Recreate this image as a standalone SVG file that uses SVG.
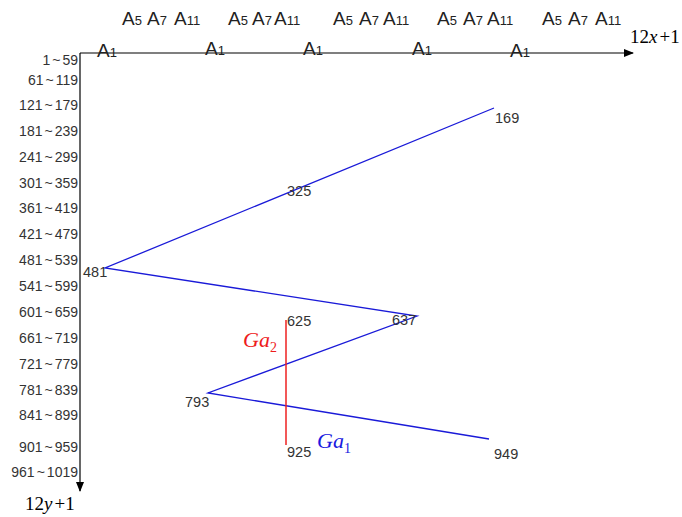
<svg xmlns="http://www.w3.org/2000/svg" width="682" height="517" viewBox="0 0 682 517">
<defs>
<marker id="ah" markerWidth="10" markerHeight="8" refX="9" refY="4" orient="auto" markerUnits="userSpaceOnUse">
<path d="M0,0 L10,4 L0,8 Z" fill="#000"/>
</marker>
<style>
.lab{font-family:"Liberation Sans",Arial,sans-serif;font-size:14.5px;fill:#333}
.yl{font-family:"Liberation Sans",Arial,sans-serif;font-size:14px;fill:#333;text-anchor:end}
.a{font-family:"Liberation Sans",Arial,sans-serif;font-size:19px;fill:#222}
.s{font-size:13px}
.m{font-family:"Liberation Serif","Times New Roman",serif;font-size:19px;fill:#000}
.g{font-family:"Liberation Serif","Times New Roman",serif;font-size:22px;font-style:italic}
.blue{fill:none;stroke:#1a1ad8;stroke-width:1.3}
.red{fill:none;stroke:#ee2020;stroke-width:1.5}
.axis{fill:none;stroke:#000;stroke-width:1.2}
</style>
</defs>
<rect width="682" height="517" fill="#fff"/>
<g id="axes">
<line class="axis" x1="80" y1="53" x2="633" y2="53" marker-end="url(#ah)"/>
<line class="axis" x1="80" y1="53" x2="80" y2="491" marker-end="url(#ah)"/>
<text class="m" x="630" y="43">12<tspan font-style="italic">x</tspan><tspan dx="2">+</tspan>1</text>
<text class="m" x="25" y="510">12<tspan font-style="italic">y</tspan><tspan dx="2">+</tspan>1</text>
</g>
<g id="top-labels">
<text class="a" y="25"><tspan x="122">A</tspan><tspan class="s">5</tspan><tspan x="147">A</tspan><tspan class="s">7</tspan><tspan x="174">A</tspan><tspan class="s">11</tspan></text>
<text class="a" y="25"><tspan x="228">A</tspan><tspan class="s">5</tspan><tspan x="252">A</tspan><tspan class="s">7</tspan><tspan x="274">A</tspan><tspan class="s">11</tspan></text>
<text class="a" y="25"><tspan x="333">A</tspan><tspan class="s">5</tspan><tspan x="359">A</tspan><tspan class="s">7</tspan><tspan x="383">A</tspan><tspan class="s">11</tspan></text>
<text class="a" y="25"><tspan x="437">A</tspan><tspan class="s">5</tspan><tspan x="463">A</tspan><tspan class="s">7</tspan><tspan x="487">A</tspan><tspan class="s">11</tspan></text>
<text class="a" y="25"><tspan x="542">A</tspan><tspan class="s">5</tspan><tspan x="568">A</tspan><tspan class="s">7</tspan><tspan x="595">A</tspan><tspan class="s">11</tspan></text>
<text class="a" x="97" y="57">A<tspan class="s">1</tspan></text>
<text class="a" x="205" y="55">A<tspan class="s">1</tspan></text>
<text class="a" x="303" y="55">A<tspan class="s">1</tspan></text>
<text class="a" x="412" y="55">A<tspan class="s">1</tspan></text>
<text class="a" x="510" y="57">A<tspan class="s">1</tspan></text>
</g>
<g id="y-labels">
<text class="yl" x="78" y="65">1<tspan dx="2">~</tspan><tspan dx="2">59</tspan></text>
<text class="yl" x="78" y="85">61<tspan dx="2">~</tspan><tspan dx="2">119</tspan></text>
<text class="yl" x="78" y="110">121<tspan dx="2">~</tspan><tspan dx="2">179</tspan></text>
<text class="yl" x="78" y="136">181<tspan dx="2">~</tspan><tspan dx="2">239</tspan></text>
<text class="yl" x="78" y="162">241<tspan dx="2">~</tspan><tspan dx="2">299</tspan></text>
<text class="yl" x="78" y="188">301<tspan dx="2">~</tspan><tspan dx="2">359</tspan></text>
<text class="yl" x="78" y="213">361<tspan dx="2">~</tspan><tspan dx="2">419</tspan></text>
<text class="yl" x="78" y="239">421<tspan dx="2">~</tspan><tspan dx="2">479</tspan></text>
<text class="yl" x="78" y="265">481<tspan dx="2">~</tspan><tspan dx="2">539</tspan></text>
<text class="yl" x="78" y="291">541<tspan dx="2">~</tspan><tspan dx="2">599</tspan></text>
<text class="yl" x="78" y="317">601<tspan dx="2">~</tspan><tspan dx="2">659</tspan></text>
<text class="yl" x="78" y="343">661<tspan dx="2">~</tspan><tspan dx="2">719</tspan></text>
<text class="yl" x="78" y="369">721<tspan dx="2">~</tspan><tspan dx="2">779</tspan></text>
<text class="yl" x="78" y="395">781<tspan dx="2">~</tspan><tspan dx="2">839</tspan></text>
<text class="yl" x="78" y="420">841<tspan dx="2">~</tspan><tspan dx="2">899</tspan></text>
<text class="yl" x="78" y="452">901<tspan dx="2">~</tspan><tspan dx="2">959</tspan></text>
<text class="yl" x="78" y="477">961<tspan dx="2">~</tspan><tspan dx="2">1019</tspan></text>
</g>
<g id="connectors">
<polyline class="blue" points="494,108 105,268 417,316 208,393 489,439"/>
<line class="red" x1="286" y1="320" x2="286" y2="445"/>
</g>
<g id="n169"><text class="lab" x="495" y="123">169</text></g>
<g id="n325"><text class="lab" x="287" y="196">325</text></g>
<g id="n481"><text class="lab" x="83" y="277">481</text></g>
<g id="n637"><text class="lab" x="392" y="325">637</text></g>
<g id="n625"><text class="lab" x="287" y="326">625</text></g>
<g id="n793"><text class="lab" x="185" y="407">793</text></g>
<g id="n925"><text class="lab" x="287" y="457">925</text></g>
<g id="n949"><text class="lab" x="494" y="459">949</text></g>
<g id="Ga2"><text class="g" x="243" y="347" fill="#ee1c1c">Ga<tspan font-size="14" font-style="normal" dy="5">2</tspan></text></g>
<g id="Ga1"><text class="g" x="317" y="448" fill="#1a1ae0">Ga<tspan font-size="14" font-style="normal" dy="5">1</tspan></text></g>
</svg>
